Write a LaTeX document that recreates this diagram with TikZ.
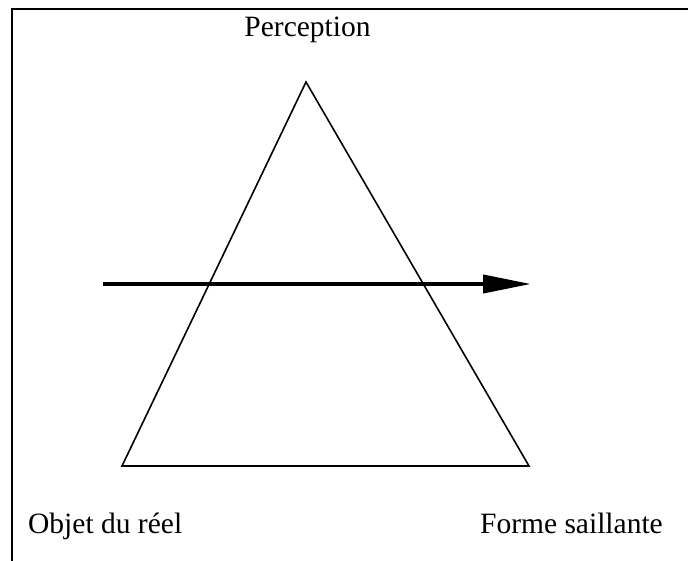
\documentclass[tikz,border=0pt]{standalone}
\usepackage{fontspec}
\setmainfont{Liberation Serif}
\usetikzlibrary{arrows.meta}
\begin{document}
\begin{tikzpicture}[x=1pt,y=-1pt,
  lbl/.style={inner sep=0pt,font=\fontsize{29.5}{32}\selectfont},
  frameline/.style={line width=2.5pt},
  triline/.style={line width=1.6pt,line join=miter},
  bigarrow/.style={line width=4pt,-{Triangle[length=48pt,width=18pt]}}]
\useasboundingbox (0,0) rectangle (688,561);
% frame (top and left sides only)
\coordinate (fr) at (688,9);
\coordinate (fc) at (12,9);
\coordinate (fb) at (12,561);
\draw[frameline] (fr) -- (fc) -- (fb);
% triangle
\coordinate (top) at (306,82);
\coordinate (bl) at (122,466);
\coordinate (br) at (529,466);
\draw[triline] (top) -- (bl) -- (br) -- cycle;
% arrow
\coordinate (as) at (103,284);
\coordinate (ae) at (531,284);
\draw[bigarrow] (as) -- (ae);
% labels
\node[lbl,anchor=base] (perc) at (307.5,37) {Perception};
\node[lbl,anchor=base west] (obj) at (28,533) {Objet du réel};
\node[lbl,anchor=base east] (forme) at (663,533) {Forme saillante};
\end{tikzpicture}
\end{document}
